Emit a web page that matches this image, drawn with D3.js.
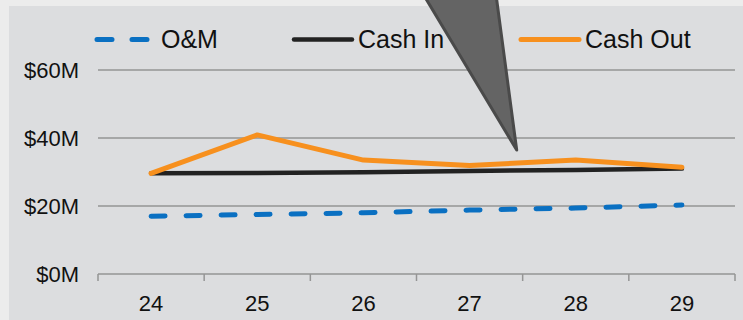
<!DOCTYPE html>
<html>
<head>
<meta charset="utf-8">
<script src="https://cdn.jsdelivr.net/npm/d3@7"></script>
<style>
  html, body { margin: 0; padding: 0; background: #ececec; }
  svg { display: block; font-family: "Liberation Sans", Arial, sans-serif; }
</style>
</head>
<body>
<div id="chart"></div>
<script>
(() => {
    // values ($M)
    let years = ['24', '25', '26', '27', '28', '29'];
    let om = [17.0, 17.5, 18.0, 18.8, 19.4, 20.3];
    let cashIn = [29.6, 29.7, 29.9, 30.3, 30.6, 31.0];
    let cashOut = [29.6, 40.9, 33.5, 31.9, 33.5, 31.4];
    let yTicks = [0, 20, 40, 60];

    let W = 743, H = 320;
    let svg = d3.select('#chart')
        .append('svg')
        .attr('width', W)
        .attr('height', H);

    // panel
    svg.append('rect')
        .attr('x', 9).attr('y', 6)
        .attr('width', W - 9).attr('height', H - 6)
        .attr('fill', '#dcdddf');

    let x = d3.scaleBand().domain(years).range([98, 735]);
    let y = d3.scaleLinear().domain([0, 60]).range([274, 70]);
    let cx = d => x(d) + x.bandwidth() / 2;

    // gridlines + y labels
    yTicks.forEach(t => {
        if (t > 0) {
            svg.append('line')
                .attr('x1', 98).attr('x2', 735)
                .attr('y1', y(t)).attr('y2', y(t))
                .attr('stroke', '#959595').attr('stroke-width', 1.5);
        }
        svg.append('text')
            .attr('x', 79).attr('y', y(t) + 8)
            .attr('text-anchor', 'end')
            .attr('font-size', 22)
            .attr('fill', '#111')
            .text('$' + t + 'M');
    });

    // x axis
    let axis = svg.append('g');
    axis.append('line')
        .attr('x1', 98).attr('x2', 735)
        .attr('y1', y(0)).attr('y2', y(0))
        .attr('stroke', '#959595').attr('stroke-width', 1.5);
    years.concat(['end']).forEach((d, i) => {
        let px = i < years.length ? x(d) : x.range()[1];
        axis.append('line')
            .attr('x1', px).attr('x2', px)
            .attr('y1', y(0)).attr('y2', y(0) + 7)
            .attr('stroke', '#959595').attr('stroke-width', 1.5);
    });
    years.forEach(d => {
        axis.append('text')
            .attr('x', cx(d)).attr('y', 311)
            .attr('text-anchor', 'middle')
            .attr('font-size', 22)
            .attr('fill', '#111')
            .text(d);
    });

    let series = [
        {name: 'O&M', values: om, color: '#0a70c2', width: 5, dash: '14 21'},
        {name: 'Cash In', values: cashIn, color: '#222222', width: 4.5, dash: null},
        {name: 'Cash Out', values: cashOut, color: '#f7901e', width: 5, dash: null}
    ];

    let line = d3.line()
        .x((v, i) => cx(years[i]))
        .y(v => y(v));

    series.forEach(s => {
        svg.append('path')
            .datum(s.values)
            .attr('d', line)
            .attr('fill', 'none')
            .attr('stroke', s.color)
            .attr('stroke-width', s.width)
            .attr('stroke-linecap', 'round')
            .attr('stroke-linejoin', 'round')
            .attr('stroke-dasharray', s.dash);
    });

    // legend
    let legX = [97, 294, 521];
    series.forEach((s, i) => {
        svg.append('line')
            .attr('x1', legX[i]).attr('x2', legX[i] + 58)
            .attr('y1', 39.5).attr('y2', 39.5)
            .attr('stroke', s.color)
            .attr('stroke-width', s.width)
            .attr('stroke-linecap', 'round')
            .attr('stroke-dasharray', s.dash ? '15 20' : null);
        svg.append('text')
            .attr('x', legX[i] + 64).attr('y', 48)
            .attr('font-size', 25)
            .attr('fill', '#111')
            .text(s.name);
    });

    // callout pointer
    svg.append('polygon')
        .attr('points', '420.7,-10 495.4,-10 516.7,150')
        .attr('fill', '#646464')
        .attr('stroke', '#4a4a4a')
        .attr('stroke-width', 3)
        .attr('stroke-linejoin', 'round');
})();
</script>
</body>
</html>
